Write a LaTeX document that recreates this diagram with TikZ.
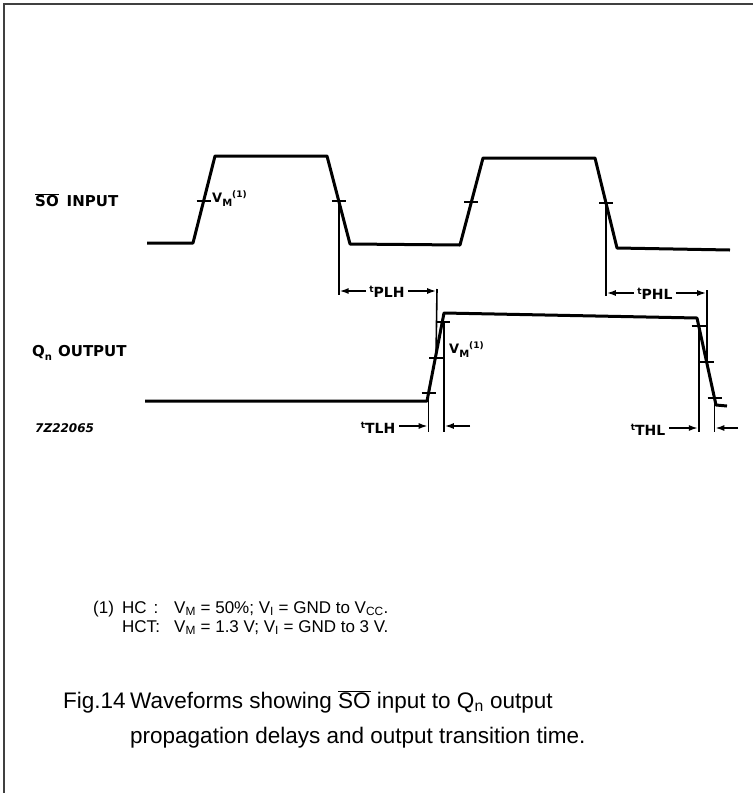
\documentclass[tikz,border=0pt]{standalone}
\usepackage{fontspec}
\setmainfont{Liberation Sans}
\newfontfamily\lblfont{DejaVu Sans}
\usetikzlibrary{arrows.meta}
\begin{document}
\begin{tikzpicture}[x=1pt,y=-1pt,
  frame/.style={line width=2pt, black!75},
  wave/.style={line width=3pt, line join=round},
  tickm/.style={line width=1.8pt},
  dimv/.style={line width=1.6pt},
  darr/.style={-{Latex[length=9pt,width=6pt]}, line width=1.6pt},
  sig/.style={font=\lblfont\fontsize{15}{15}\selectfont\bfseries, inner sep=0pt, anchor=west},
  tlab/.style={font=\lblfont\fontsize{14}{14}\selectfont\bfseries, inner sep=0pt},
  vlab/.style={font=\lblfont\fontsize{13}{13}\selectfont\bfseries, inner sep=0pt, anchor=west},
  note/.style={font=\fontsize{17}{17}\selectfont, inner sep=0pt, anchor=base west},
  captxt/.style={font=\fontsize{22.5}{22.5}\selectfont, inner sep=0pt, anchor=base west}
]
\useasboundingbox (0,0) rectangle (753,793);
% frame (top and left only)
\coordinate (fa) at (4,793);
\coordinate (fb) at (4,4);
\coordinate (fc) at (753,4);
\draw[frame] (fa) -- (fb) -- (fc);

% ---------- input waveform ----------
\coordinate (i0) at (147,243);
\coordinate (i1) at (193,243);
\coordinate (i2) at (215,156);
\coordinate (i3) at (327,156);
\coordinate (i4) at (350,244);
\coordinate (i5) at (460,245);
\coordinate (i6) at (483,158);
\coordinate (i7) at (595,158);
\coordinate (i8) at (617,248);
\coordinate (i9) at (730,250);
\draw[wave] (i0) -- (i1) -- (i2) -- (i3) -- (i4) -- (i5) -- (i6) -- (i7) -- (i8) -- (i9);

% input VM ticks
\coordinate (ta) at (203.6,201);
\coordinate (tb) at (338.8,201);
\coordinate (tc) at (471.4,202);
\coordinate (td) at (606,203);
\foreach \t in {ta,tb,tc,td}{
  \draw[tickm] ([xshift=-7pt]\t) -- ([xshift=7pt]\t);
}
\node[vlab] (vm1) at (212,199) {V\raisebox{-4pt}{\fontsize{10}{10}\selectfont M}\raisebox{5pt}{\fontsize{9}{9}\selectfont (1)}};

% ---------- output waveform ----------
\coordinate (o0) at (145,401);
\coordinate (o1) at (427,401);
\coordinate (o2) at (444,313);
\coordinate (o3) at (697,318);
\coordinate (o4) at (716,405);
\coordinate (o5) at (727,406);
\draw[wave] (o0) -- (o1) -- (o2) -- (o3) -- (o4) -- (o5);

% output ticks
\coordinate (r10) at (428.5,393);
\coordinate (r50) at (436,358);
\coordinate (r90) at (443,322);
\coordinate (f90) at (698.7,326);
\coordinate (f50) at (707,362);
\coordinate (f10) at (714.5,398);
\foreach \t in {r10,r50,r90,f90,f50,f10}{
  \draw[tickm] ([xshift=-7pt]\t) -- ([xshift=7pt]\t);
}
\node[vlab] (vm2) at (449,350) {V\raisebox{-4pt}{\fontsize{10}{10}\selectfont M}\raisebox{5pt}{\fontsize{9}{9}\selectfont (1)}};

% ---------- tPLH ----------
\coordinate (plhA) at (338.8,295);
\coordinate (plhB) at (437,289);
\draw[dimv] (tb) -- (plhA);
\draw[dimv] (plhB) -- (r50);
\node[tlab] (tplh) at (387,292) {\raisebox{5pt}{\fontsize{9}{9}\selectfont t}PLH};
\draw[darr] (tplh.west) ++(-3,-1) -- (339.6,291);
\draw[darr] (tplh.east) ++(3,-1) -- (436.2,291);

% ---------- tPHL ----------
\coordinate (phlA) at (606,296);
\coordinate (phlB) at (707,290);
\draw[dimv] (td) -- (phlA);
\draw[dimv] (phlB) -- (f50);
\node[tlab] (tphl) at (655,294) {\raisebox{5pt}{\fontsize{9}{9}\selectfont t}PHL};
\draw[darr] (tphl.west) ++(-3,-1) -- (606.8,293);
\draw[darr] (tphl.east) ++(3,-1) -- (706.2,293);

% ---------- tTLH ----------
\coordinate (tlhA) at (428.5,432);
\coordinate (tlhB) at (444,432);
\draw[dimv] (r10) -- (tlhA);
\draw[dimv] (r90) ++(1,0) -- (tlhB);
\node[tlab] (ttlh) at (378,428) {\raisebox{5pt}{\fontsize{9}{9}\selectfont t}TLH};
\draw[darr] (ttlh.east) ++(4,-2) -- (427.7,426);
\coordinate (tlhR) at (470,426);
\draw[darr] (tlhR) -- (444.8,426);

% ---------- tTHL ----------
\coordinate (thlA) at (698.7,432);
\coordinate (thlB) at (714.5,432);
\draw[dimv] (f90) -- (thlA);
\draw[dimv] (f10) -- (thlB);
\node[tlab] (tthl) at (648,430) {\raisebox{5pt}{\fontsize{9}{9}\selectfont t}THL};
\draw[darr] (tthl.east) ++(4,-2) -- (697.9,428);
\coordinate (thlR) at (738,428);
\draw[darr] (thlR) -- (715.3,428);

% ---------- signal labels ----------
\node[sig] (soin) at (35,200) {$\overline{\mbox{SO}}$\hspace{8pt}INPUT};
\node[sig] (qout) at (32,353) {Q\raisebox{-4pt}{\fontsize{10}{10}\selectfont n}\hspace{6pt}OUTPUT};
\node[sig, font=\lblfont\fontsize{12}{12}\selectfont\bfseries\itshape] (code) at (35,428) {7Z22065};

% ---------- footnote ----------
\node[note] (n1) at (93,613) {(1)};
\node[note] (n2) at (122,613) {HC\hspace{7pt}:};
\node[note] (n3) at (174,613) {V\textsubscript{M} = 50\%; V\textsubscript{I} = GND to V\textsubscript{CC}.};
\node[note] (n4) at (122,632) {HCT:};
\node[note] (n5) at (174,632) {V\textsubscript{M} = 1.3 V; V\textsubscript{I} = GND to 3 V.};

% ---------- caption ----------
\node[captxt] (c1) at (63,708) {Fig.14};
\node[captxt] (c2) at (130,708) {Waveforms showing $\overline{\mbox{SO}}$ input to Q\textsubscript{n} output};
\node[captxt] (c3) at (130,743) {propagation delays and output transition time.};
\end{tikzpicture}
\end{document}
